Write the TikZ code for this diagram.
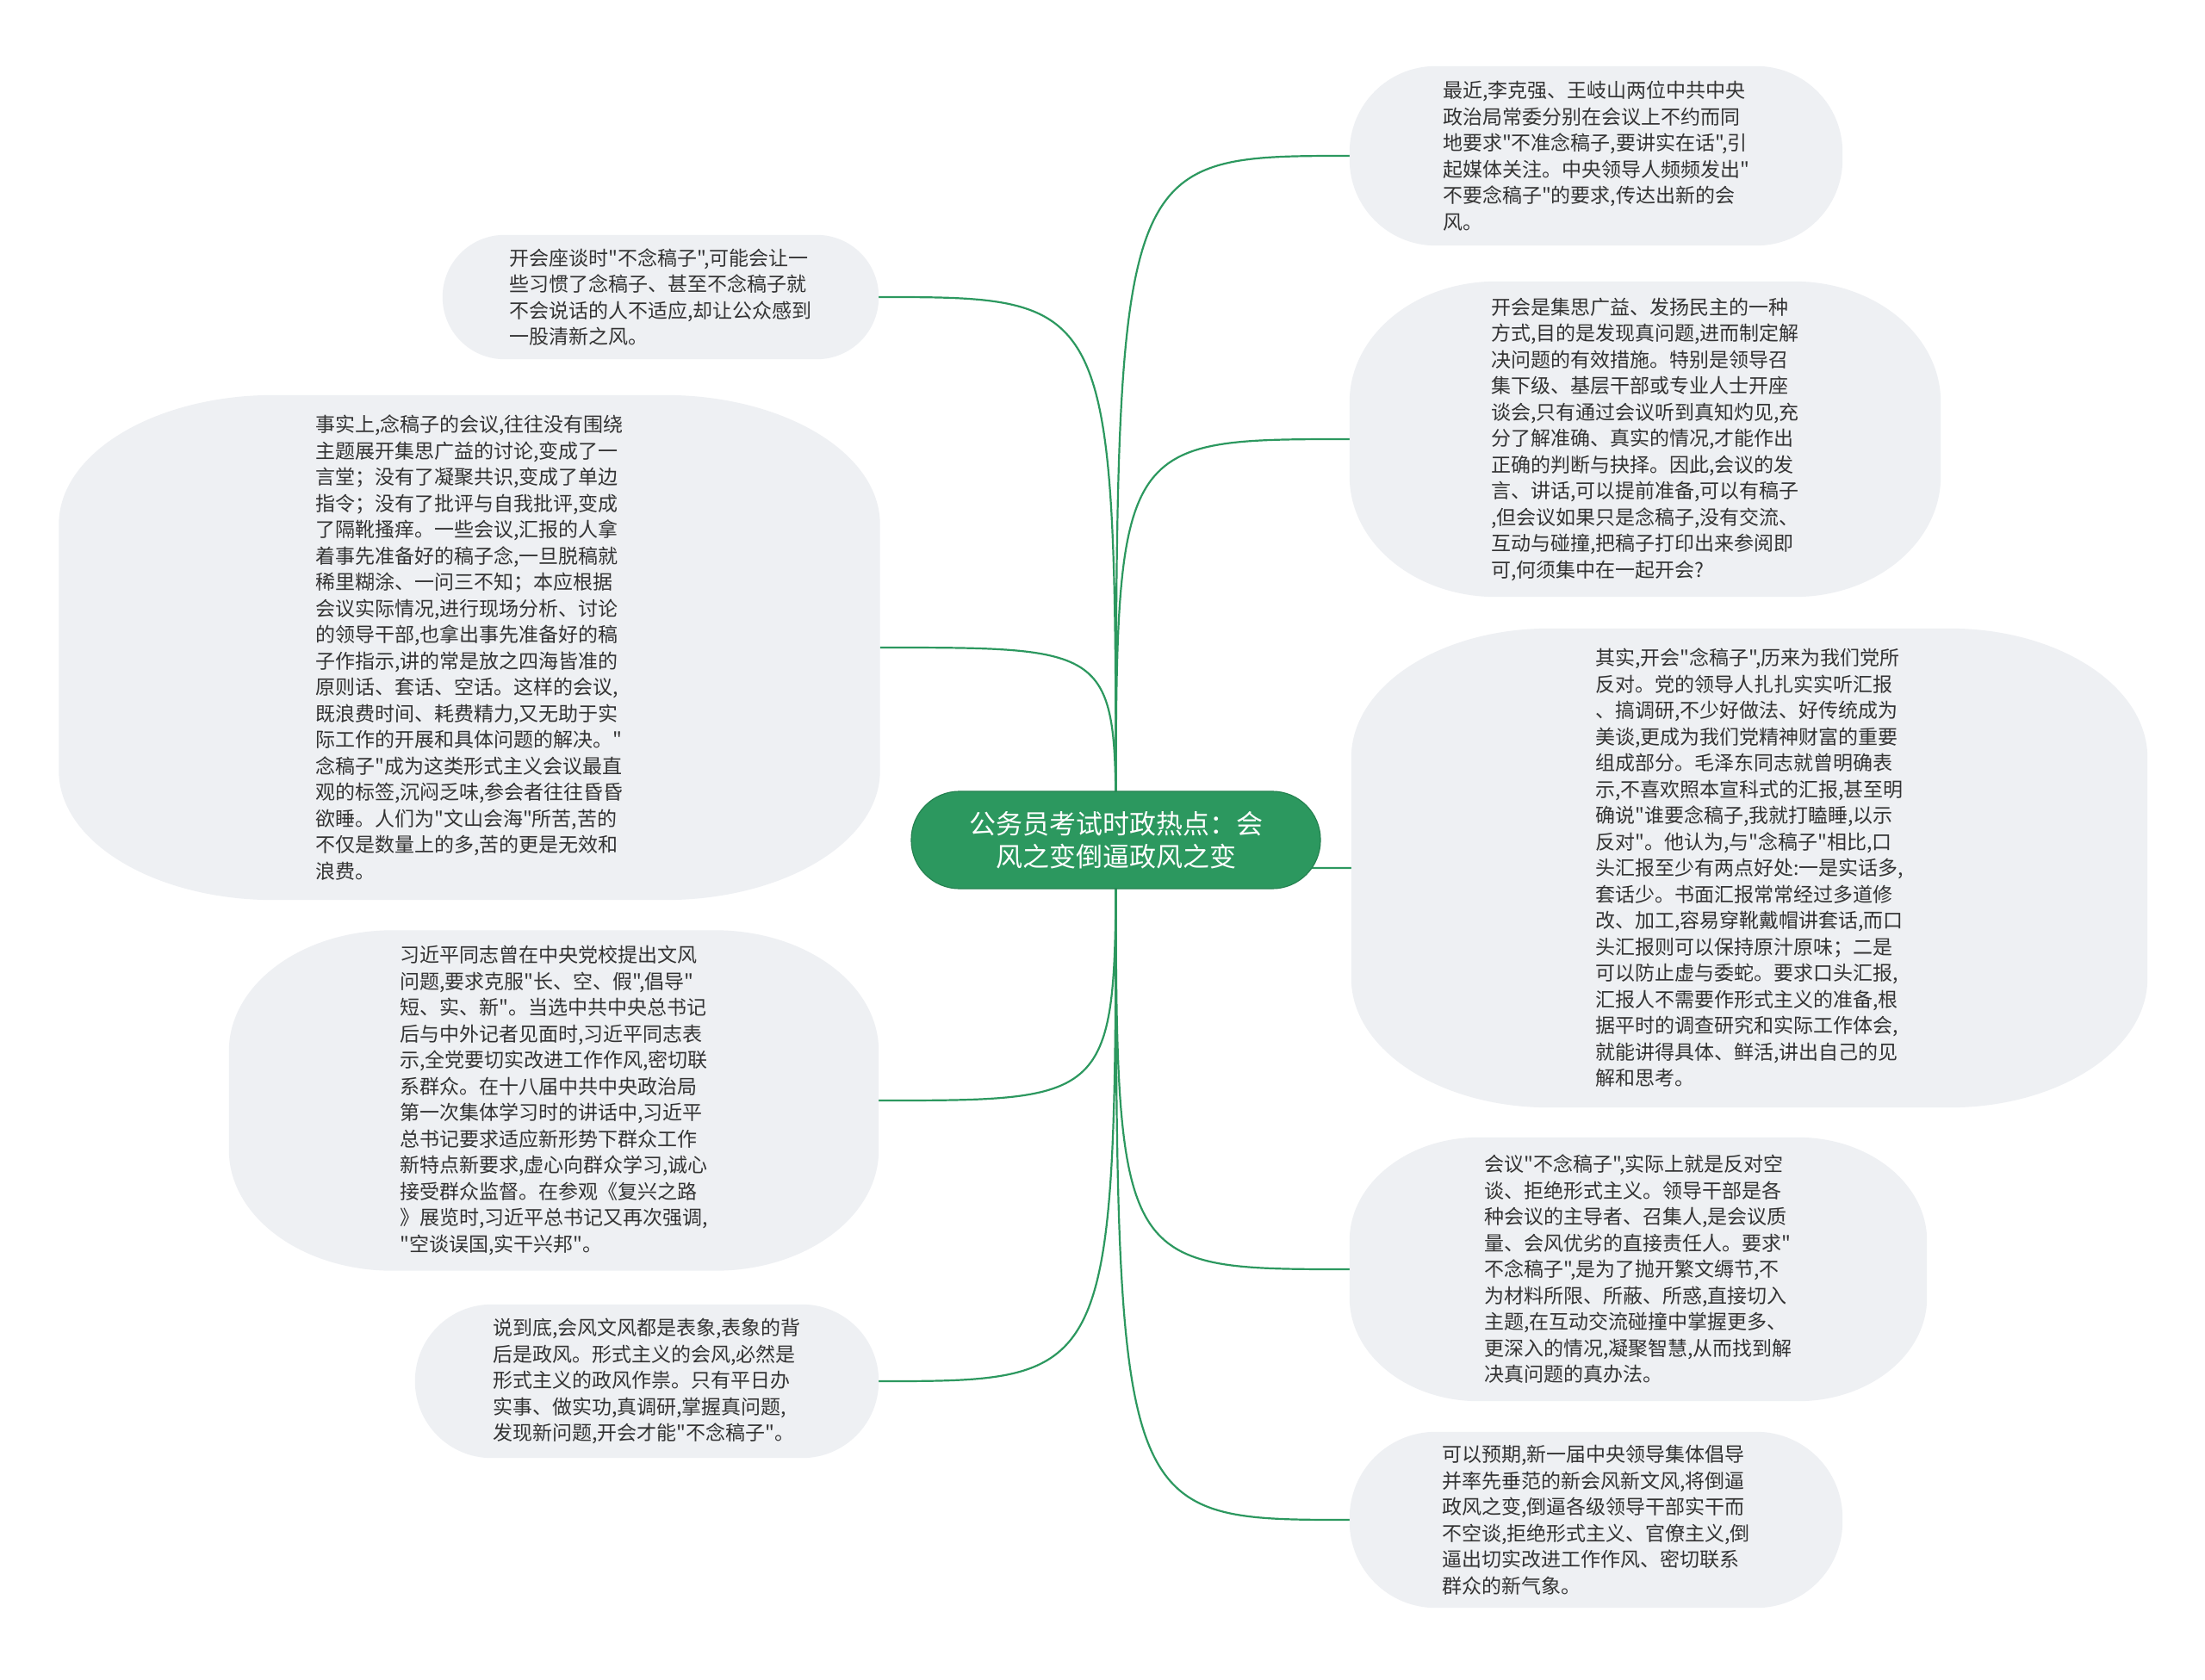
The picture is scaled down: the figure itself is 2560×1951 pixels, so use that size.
\documentclass[tikz,border=0pt]{standalone}
\usepackage{fontspec}
\newfontfamily\cjk{Noto Sans CJK SC}
\usetikzlibrary{calc,backgrounds}
\definecolor{bub}{RGB}{238,240,243}
\definecolor{gr}{RGB}{44,152,95}
\definecolor{grd}{RGB}{36,130,80}
\definecolor{txt}{RGB}{51,51,51}
\tikzset{
  body/.style={align=left, inner sep=0pt, text=txt, font=\cjk\fontsize{23}{30.5}\selectfont},
  ctr/.style={align=center, inner sep=0pt, text=white, fill=gr, draw=grd, line width=1.2pt,
    rounded corners=56pt, minimum width=475pt, minimum height=113pt,
    font=\cjk\fontsize{31}{38}\selectfont},
  conn/.style={draw=gr, line width=2.2pt},
}
\newcommand\bubblebg[3]{%
  \fill[bub] ($(#1.north west)+(#2,0)$) -- ($(#1.north east)+(-#2,0)$)
    arc[start angle=90,end angle=0,x radius=#2,y radius=#3]
    -- ($(#1.south east)+(0,#3)$)
    arc[start angle=0,end angle=-90,x radius=#2,y radius=#3]
    -- ($(#1.south west)+(#2,0)$)
    arc[start angle=270,end angle=180,x radius=#2,y radius=#3]
    -- ($(#1.north west)+(0,-#3)$)
    arc[start angle=180,end angle=90,x radius=#2,y radius=#3] -- cycle;}
\begin{document}
\begin{tikzpicture}[x=1pt,y=1pt]
\useasboundingbox (0,0) rectangle (2560,-1951);

\node[ctr] (c) at (1295.5,-975.5) {公务员考试时政热点：会\\风之变倒逼政风之变};

\node[body, minimum width=572pt, minimum height=208pt] (r1) at (1853,-181) {最近,李克强、王岐山两位中共中央\\政治局常委分别在会议上不约而同\\地要求"不准念稿子,要讲实在话",引\\起媒体关注。中央领导人频频发出"\\不要念稿子"的要求,传达出新的会\\风。};

\node[body, minimum width=686pt, minimum height=366pt] (r2) at (1910,-510) {开会是集思广益、发扬民主的一种\\方式,目的是发现真问题,进而制定解\\决问题的有效措施。特别是领导召\\集下级、基层干部或专业人士开座\\谈会,只有通过会议听到真知灼见,充\\分了解准确、真实的情况,才能作出\\正确的判断与抉择。因此,会议的发\\言、讲话,可以提前准备,可以有稿子\\,但会议如果只是念稿子,没有交流、\\互动与碰撞,把稿子打印出来参阅即\\可,何须集中在一起开会?};

\node[body, minimum width=924pt, minimum height=556pt] (r3) at (2031,-1008) {其实,开会"念稿子",历来为我们党所\\反对。党的领导人扎扎实实听汇报\\、搞调研,不少好做法、好传统成为\\美谈,更成为我们党精神财富的重要\\组成部分。毛泽东同志就曾明确表\\示,不喜欢照本宣科式的汇报,甚至明\\确说"谁要念稿子,我就打瞌睡,以示\\反对"。他认为,与"念稿子"相比,口\\头汇报至少有两点好处:一是实话多,\\套话少。书面汇报常常经过多道修\\改、加工,容易穿靴戴帽讲套话,而口\\头汇报则可以保持原汁原味；二是\\可以防止虚与委蛇。要求口头汇报,\\汇报人不需要作形式主义的准备,根\\据平时的调查研究和实际工作体会,\\就能讲得具体、鲜活,讲出自己的见\\解和思考。};

\node[body, minimum width=670pt, minimum height=306pt] (r4) at (1902,-1474) {会议"不念稿子",实际上就是反对空\\谈、拒绝形式主义。领导干部是各\\种会议的主导者、召集人,是会议质\\量、会风优劣的直接责任人。要求"\\不念稿子",是为了抛开繁文缛节,不\\为材料所限、所蔽、所惑,直接切入\\主题,在互动交流碰撞中掌握更多、\\更深入的情况,凝聚智慧,从而找到解\\决真问题的真办法。};

\node[body, minimum width=572pt, minimum height=204pt] (r5) at (1853,-1765) {可以预期,新一届中央领导集体倡导\\并率先垂范的新会风新文风,将倒逼\\政风之变,倒逼各级领导干部实干而\\不空谈,拒绝形式主义、官僚主义,倒\\逼出切实改进工作作风、密切联系\\群众的新气象。};

\node[body, minimum width=506pt, minimum height=144pt] (la) at (767,-345) {开会座谈时"不念稿子",可能会让一\\些习惯了念稿子、甚至不念稿子就\\不会说话的人不适应,却让公众感到\\一股清新之风。};

\node[body, minimum width=953pt, minimum height=586pt] (lb) at (545,-752) {事实上,念稿子的会议,往往没有围绕\\主题展开集思广益的讨论,变成了一\\言堂；没有了凝聚共识,变成了单边\\指令；没有了批评与自我批评,变成\\了隔靴搔痒。一些会议,汇报的人拿\\着事先准备好的稿子念,一旦脱稿就\\稀里糊涂、一问三不知；本应根据\\会议实际情况,进行现场分析、讨论\\的领导干部,也拿出事先准备好的稿\\子作指示,讲的常是放之四海皆准的\\原则话、套话、空话。这样的会议,\\既浪费时间、耗费精力,又无助于实\\际工作的开展和具体问题的解决。"\\念稿子"成为这类形式主义会议最直\\观的标签,沉闷乏味,参会者往往昏昏\\欲睡。人们为"文山会海"所苦,苦的\\不仅是数量上的多,苦的更是无效和\\浪费。};

\node[body, minimum width=754pt, minimum height=395pt] (lc) at (643,-1278) {习近平同志曾在中央党校提出文风\\问题,要求克服"长、空、假",倡导"\\短、实、新"。当选中共中央总书记\\后与中外记者见面时,习近平同志表\\示,全党要切实改进工作作风,密切联\\系群众。在十八届中共中央政治局\\第一次集体学习时的讲话中,习近平\\总书记要求适应新形势下群众工作\\新特点新要求,虚心向群众学习,诚心\\接受群众监督。在参观《复兴之路\\》展览时,习近平总书记又再次强调,\\"空谈误国,实干兴邦"。};

\node[body, minimum width=538pt, minimum height=178pt] (ld) at (751,-1604) {说到底,会风文风都是表象,表象的背\\后是政风。形式主义的会风,必然是\\形式主义的政风作祟。只有平日办\\实事、做实功,真调研,掌握真问题,\\发现新问题,开会才能"不念稿子"。};

\begin{pgfonlayer}{background}
\fill[white] (0,0) rectangle (2560,-1951);
\foreach \t in {r1,r2,r3,r4,r5}
  \draw[conn] (c.center) .. controls (c.center |- \t.west) .. (\t.west);
\foreach \t in {la,lb,lc,ld}
  \draw[conn] (c.center) .. controls (c.center |- \t.east) .. (\t.east);
\bubblebg{r1}{100}{100}
\bubblebg{r2}{170}{140}
\bubblebg{r3}{230}{150}
\bubblebg{r4}{150}{120}
\bubblebg{r5}{100}{100}
\bubblebg{la}{72}{72}
\bubblebg{lb}{250}{150}
\bubblebg{lc}{190}{140}
\bubblebg{ld}{89}{89}
\end{pgfonlayer}
\end{tikzpicture}
\end{document}
